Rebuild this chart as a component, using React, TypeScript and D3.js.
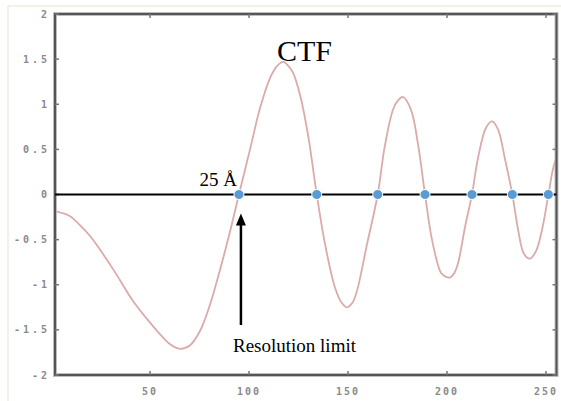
import * as d3 from "d3";
import React from "react";

// CTF curve (spatial frequency, amplitude)
const ctfX = [
  3.0, 9.6, 14.6, 19.7, 24.7, 32.3, 41.4, 50.0, 55.1, 60.1, 65.2, 70.2, 75.3, 80.3, 85.4, 90.4,
  94.9, 100.5, 105.6, 110.6, 114.0, 117.2, 120.0, 122.2, 125.8, 129.8, 134.2, 138.4, 143.4, 146.8,
  149.5, 152.2, 154.5, 159.6, 165.0, 168.7, 173.7, 177.8, 181.8, 185.4, 188.9, 192.4, 197.0, 199.3,
  201.5, 203.7, 205.6, 209.1, 212.6, 215.7, 219.7, 222.7, 225.8, 229.3, 233.0, 235.9, 238.9, 241.9,
  244.9, 248.0, 251.2, 253.5, 255.6,
];
const ctfY = [
  -0.19, -0.24, -0.34, -0.46, -0.61, -0.86, -1.18, -1.42, -1.55, -1.66, -1.71, -1.67, -1.51, -1.22, -0.83, -0.41,
  0, 0.5, 0.96, 1.29, 1.42, 1.47, 1.42, 1.35, 1.1, 0.66, 0, -0.55, -1.03, -1.2,
  -1.25, -1.2, -1.07, -0.55, 0, 0.55, 0.99, 1.08, 0.94, 0.55, 0, -0.5, -0.87, -0.91,
  -0.92, -0.87, -0.76, -0.36, 0, 0.41, 0.74, 0.81, 0.72, 0.39, 0, -0.39, -0.66, -0.71,
  -0.63, -0.39, 0, 0.28, 0.44,
];
// zero crossings marked with dots
const zeroX = [94.9, 134.2, 165.0, 188.9, 212.6, 233.0, 251.2];

const xTicks = [50, 100, 150, 200, 250];
const yTicks = [2, 1.5, 1, 0.5, 0, -0.5, -1, -1.5, -2];

const W = 561;
const H = 401;
const left = 55, right = 556.5, top = 14, bottom = 375;

export default function App() {
  const x = d3.scaleLinear().domain([2, 255.3]).range([left, right]);
  const y = d3.scaleLinear().domain([-2, 2]).range([bottom, top]);

  const pts: [number, number][] = ctfX.map((v, i) => [v, ctfY[i]]);
  const line = d3
    .line<[number, number]>()
    .x((d) => x(d[0]))
    .y((d) => y(d[1]))
    .curve(d3.curveCatmullRom.alpha(0.5));

  const arrowX = x(zeroX[0]) + 2;
  const y0 = y(0);

  const tickCol = "#8a8a8a";
  const serif = "'Liberation Serif', 'Times New Roman', serif";

  return (
    <svg
      width={W}
      height={H}
      style={{ position: "absolute", left: 0, top: 0, background: "#fff" }}
      fontFamily={serif}
    >
      {/* faint outer border */}
      <line x1={8} x2={W} y1={6} y2={6} stroke="#ececdf" strokeWidth={1.5} />
      <line x1={8} x2={8} y1={6} y2={H} stroke="#ececdf" strokeWidth={1.5} />

      {/* curve */}
      <path d={line(pts) || ""} fill="none" stroke="#dcaaaa" strokeWidth={1.8} />

      {/* frame */}
      <rect
        x={left}
        y={top}
        width={right - left}
        height={bottom - top}
        fill="none"
        stroke="#bdbdbd"
        strokeWidth={4}
      />
      <rect
        x={left}
        y={top}
        width={right - left}
        height={bottom - top}
        fill="none"
        stroke="#555"
        strokeWidth={2}
      />

      {/* ticks */}
      {xTicks.map((t) => (
        <g key={"x" + t}>
          <line x1={x(t)} x2={x(t)} y1={bottom} y2={bottom - 4} stroke="#777" strokeWidth={1.5} />
          <line x1={x(t)} x2={x(t)} y1={top} y2={top + 4} stroke="#777" strokeWidth={1.5} />
          <text
            x={x(t)}
            y={395}
            textAnchor="middle"
            fontFamily="'DejaVu Sans Mono', monospace"
            fontSize={10}
            fontWeight="bold"
            letterSpacing={2}
            fill={tickCol}
          >
            {t}
          </text>
        </g>
      ))}
      {yTicks.map((t) => (
        <g key={"y" + t}>
          <line x1={left} x2={left + 4} y1={y(t)} y2={y(t)} stroke="#777" strokeWidth={1.5} />
          <line x1={right} x2={right - 4} y1={y(t)} y2={y(t)} stroke="#777" strokeWidth={1.5} />
          <text
            x={50}
            y={y(t)}
            dy="0.35em"
            textAnchor="end"
            fontFamily="'DejaVu Sans Mono', monospace"
            fontSize={10}
            fontWeight="bold"
            letterSpacing={3}
            fill={tickCol}
          >
            {t}
          </text>
        </g>
      ))}

      {/* zero line */}
      <line x1={left} x2={right} y1={y0} y2={y0} stroke="#000" strokeWidth={1.8} />

      {/* zero crossing dots */}
      {zeroX.map((z) => (
        <circle key={z} cx={x(z)} cy={y0} r={5} fill="#5b9bd5" stroke="#fff" strokeWidth={1} />
      ))}

      {/* arrow */}
      <line x1={arrowX} x2={arrowX} y1={325} y2={222} stroke="#000" strokeWidth={2.5} />
      <path
        d={`M${arrowX},${y0 + 19} L${arrowX - 5},${y0 + 31} L${arrowX + 5},${y0 + 31} Z`}
        fill="#000"
      />

      {/* labels */}
      <text x={x(zeroX[0]) - 2} y={y0 - 9} textAnchor="end" fontSize={19} fill="#000">
        25 Å
      </text>
      <text x={277} y={61} fontSize={30} fill="#000">
        CTF
      </text>
      <text x={233} y={352} fontSize={19} fill="#000">
        Resolution limit
      </text>
    </svg>
  );
}
